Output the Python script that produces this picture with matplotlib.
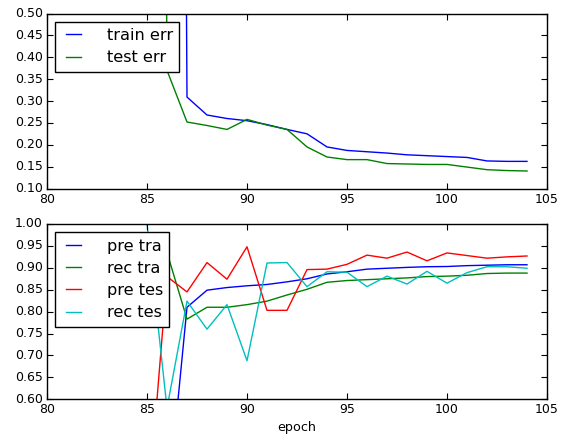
import matplotlib
matplotlib.use("Agg")
import matplotlib.pyplot as plt

plt.style.use("classic")

epochs = list(range(85, 105))

train_err = [8.0, 8.0, 0.309, 0.268, 0.260, 0.255, 0.246, 0.235, 0.225, 0.195,
             0.187, 0.184, 0.181, 0.177, 0.175, 0.173, 0.171, 0.163, 0.162, 0.162]
test_err = [8.0, 0.37, 0.252, 0.244, 0.235, 0.258, 0.245, 0.235, 0.195, 0.172,
            0.166, 0.166, 0.157, 0.156, 0.155, 0.155, 0.149, 0.143, 0.141, 0.140]

pre_tra = [0.30, 0.34, 0.810, 0.849, 0.855, 0.859, 0.862, 0.868, 0.875, 0.886,
           0.891, 0.897, 0.899, 0.901, 0.9025, 0.903, 0.905, 0.906, 0.907, 0.907]
rec_tra = [0.95, 0.935, 0.783, 0.810, 0.810, 0.816, 0.824, 0.838, 0.851, 0.867,
           0.871, 0.873, 0.875, 0.877, 0.880, 0.881, 0.883, 0.887, 0.888, 0.888]
pre_tes = [0.32, 0.88, 0.845, 0.912, 0.874, 0.948, 0.803, 0.803, 0.896, 0.897,
           0.908, 0.929, 0.922, 0.936, 0.916, 0.934, 0.928, 0.922, 0.925, 0.927]
rec_tes = [1.0, 0.58, 0.824, 0.760, 0.816, 0.688, 0.911, 0.912, 0.857, 0.891,
           0.890, 0.857, 0.881, 0.863, 0.892, 0.865, 0.889, 0.9025, 0.9025, 0.899]

top_labels = ["train err", "test err"]
bottom_labels = ["pre tra", "rec tra", "pre tes", "rec tes"]

xticks = [80, 85, 90, 95, 100, 105]
top_yticks = [0.10, 0.15, 0.20, 0.25, 0.30, 0.35, 0.40, 0.45, 0.50]
bottom_yticks = [0.60, 0.65, 0.70, 0.75, 0.80, 0.85, 0.90, 0.95, 1.00]

W, H = 571, 440
fig = plt.figure(figsize=(W / 100, H / 100), dpi=100, facecolor="white")

def px_axes(l, r, t, b):
    return fig.add_axes([l / W, 1 - b / H, (r - l) / W, (b - t) / H])

ax1 = px_axes(47, 547, 13.5, 188.5)
ax2 = px_axes(47, 547, 224, 399.3)

leg_kw = dict(loc="upper left", fontsize=11.6, fancybox=False, framealpha=1,
              edgecolor="black", handlelength=1.5, handletextpad=1.3,
              borderpad=0.4, labelspacing=0.45, borderaxespad=0.5, numpoints=2)

ax1.plot(epochs, train_err, color="b", lw=1.0, label=top_labels[0])
ax1.plot(epochs, test_err, color="g", lw=1.0, label=top_labels[1])
ax1.set_xlim(80, 105)
ax1.set_ylim(0.1, 0.5)
ax1.set_xticks(xticks)
ax1.set_yticks(top_yticks)
ax1.set_yticklabels(["%.2f" % v for v in top_yticks])
l1 = ax1.legend(**leg_kw)
l1.get_frame().set_linewidth(1.0)

ax2.plot(epochs, pre_tra, color="b", lw=1.0, label=bottom_labels[0])
ax2.plot(epochs, rec_tra, color="g", lw=1.0, label=bottom_labels[1])
ax2.plot(epochs, pre_tes, color="r", lw=1.0, label=bottom_labels[2])
ax2.plot(epochs, rec_tes, color="c", lw=1.0, label=bottom_labels[3])
ax2.set_xlim(80, 105)
ax2.set_ylim(0.6, 1.0)
ax2.set_xticks(xticks)
ax2.set_yticks(bottom_yticks)
ax2.set_yticklabels(["%.2f" % v for v in bottom_yticks])
ax2.set_xlabel("epoch", fontsize=9.2, labelpad=3)
l2 = ax2.legend(**leg_kw)
l2.get_frame().set_linewidth(1.0)

for ax in (ax1, ax2):
    ax.tick_params(axis="both", which="major", labelsize=9, direction="in",
                   length=4, width=0.8, top=True, right=True, pad=3)
    for s in ax.spines.values():
        s.set_linewidth(1.0)

fig.savefig("out.png", dpi=100, facecolor="white")
